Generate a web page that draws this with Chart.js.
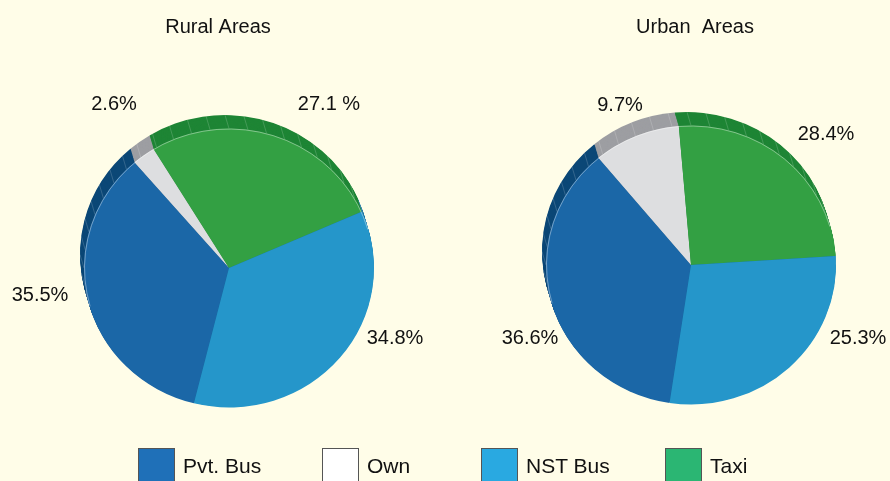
<!DOCTYPE html>
<html>
<head>
<meta charset="utf-8">
<script src="https://cdn.jsdelivr.net/npm/chart.js@4.4.1/dist/chart.umd.min.js"></script>
<style>
  html, body { margin: 0; padding: 0; background: #fffde8; }
  #wrap { position: relative; width: 890px; height: 481px; overflow: hidden; background: #fffde8; }
  canvas { position: absolute; top: 0; }
  #ruralChart { left: 0; }
  #urbanChart { left: 445px; }
  .key { position: absolute; top: 448px; width: 37px; height: 40px; border: 1px solid #555; box-sizing: border-box; }
  .keyText { position: absolute; top: 454px; font: 21px "Liberation Sans", Arial, sans-serif; color: #111; }
</style>
</head>
<body>
<div id="wrap">
  <canvas id="ruralChart" width="445" height="481"></canvas>
  <canvas id="urbanChart" width="445" height="481"></canvas>
  <div id="legend"></div>
</div>
<script>
// slice order runs clockwise round each pie
const categories = ["Pvt. Bus", "Own", "Taxi", "NST Bus"];
const ruralValues = [34.8, 2.6, 27.1, 35.5];
const urbanValues = [36.6, 9.7, 25.3, 28.4];

const faceColors = ["#1b67a7", "#dddee0", "#33a043", "#2596ca"];
const sideColors = ["#0b4776", "#9d9ea2", "#1e8535", "#16729f"];

// legend order and swatch colours
const legendNames = ["Pvt. Bus", "Own", "NST Bus", "Taxi"];
const legendColors = ["#1f70b8", "#ffffff", "#29a9e1", "#2bb673"];

const FONT = '"Liberation Sans", Arial, sans-serif';

// squashes the pie a little and draws the extruded side behind it
const pie3d = {
  id: "pie3d",
  beforeDatasetsDraw(chart, args, opts) {
    const ctx = chart.ctx;
    const arcs = chart.getDatasetMeta(0).data;
    const cx = arcs[0].x, cy = arcs[0].y;
    ctx.save();
    ctx.translate(cx, cy);
    ctx.scale(1, opts.squash);
    ctx.translate(-cx, -cy);
    const steps = 16;
    for (let s = steps; s >= 1; s--) {
      const dx = opts.dx * s / steps, dy = opts.dy * s / steps;
      arcs.forEach((a, i) => {
        ctx.beginPath();
        ctx.moveTo(a.x + dx, a.y + dy);
        ctx.arc(a.x + dx, a.y + dy, a.outerRadius, a.startAngle, a.endAngle);
        ctx.closePath();
        ctx.fillStyle = sideColors[i];
        ctx.fill();
      });
    }
    // faint facet lines on the side
    ctx.strokeStyle = "rgba(255,255,255,0.25)";
    ctx.lineWidth = 0.7;
    const r = arcs[0].outerRadius;
    for (let deg = 150; deg <= 360; deg += 7.5) {
      const t = deg * Math.PI / 180;
      const px = cx + r * Math.cos(t), py = cy + r * Math.sin(t);
      ctx.beginPath();
      ctx.moveTo(px, py);
      ctx.lineTo(px + opts.dx, py + opts.dy);
      ctx.stroke();
    }
  },
  afterDatasetsDraw(chart, args, opts) {
    const ctx = chart.ctx;
    const a = chart.getDatasetMeta(0).data[0];
    ctx.strokeStyle = "rgba(255,255,255,0.4)";
    ctx.lineWidth = 1;
    ctx.beginPath();
    ctx.arc(a.x, a.y, a.outerRadius - 0.5, 164 * Math.PI / 180, 344 * Math.PI / 180);
    ctx.stroke();
    ctx.restore();
  }
};

// title and percentage labels, text taken from the slice values
const pieText = {
  id: "pieText",
  afterDraw(chart, args, opts) {
    const ctx = chart.ctx;
    const values = chart.data.datasets[0].data;
    ctx.save();
    ctx.fillStyle = "#111";
    ctx.textAlign = "center";
    ctx.textBaseline = "middle";
    ctx.font = "20px " + FONT;
    ctx.fillText(opts.title, opts.titleX, opts.titleY);
    opts.labels.forEach(l => {
      ctx.fillText(values[l.index].toFixed(1) + (l.gap || "") + "%", l.x, l.y);
    });
    ctx.restore();
  }
};

function makePie(id, values, rotation, padding, side, text) {
  return new Chart(document.getElementById(id), {
    type: "pie",
    data: {
      labels: categories,
      datasets: [{
        data: values,
        backgroundColor: faceColors,
        borderWidth: 0
      }]
    },
    options: {
      responsive: false,
      animation: false,
      rotation: rotation,
      layout: { padding: padding },
      plugins: {
        legend: { display: false },
        tooltip: { enabled: false },
        pie3d: side,
        pieText: text
      }
    },
    plugins: [pie3d, pieText]
  });
}

makePie("ruralChart", ruralValues, 194,
  { left: 84, right: 71, top: 123, bottom: 68 },
  { squash: 0.962, dx: -4, dy: -14 },
  {
    title: "Rural Areas", titleX: 218, titleY: 27,
    labels: [
      { index: 1, x: 114, y: 104 },
      { index: 2, x: 329, y: 104, gap: " " },
      { index: 3, x: 40, y: 295 },
      { index: 0, x: 395, y: 338 }
    ]
  });

makePie("urbanChart", urbanValues, 188.5,
  { left: 101, right: 54, top: 120, bottom: 71 },
  { squash: 0.962, dx: -4, dy: -14 },
  {
    title: "Urban  Areas", titleX: 250, titleY: 27,
    labels: [
      { index: 1, x: 175, y: 105 },
      { index: 3, x: 381, y: 134 },
      { index: 0, x: 85, y: 338 },
      { index: 2, x: 413, y: 338 }
    ]
  });

// legend row along the bottom
const legendX = [138, 322, 481, 665];
const legend = document.getElementById("legend");
legendNames.forEach((name, i) => {
  const box = document.createElement("div");
  box.className = "key";
  box.style.left = legendX[i] + "px";
  box.style.background = legendColors[i];
  legend.appendChild(box);
  const txt = document.createElement("div");
  txt.className = "keyText";
  txt.style.left = (legendX[i] + 45) + "px";
  txt.textContent = name;
  legend.appendChild(txt);
});
</script>
</body>
</html>
